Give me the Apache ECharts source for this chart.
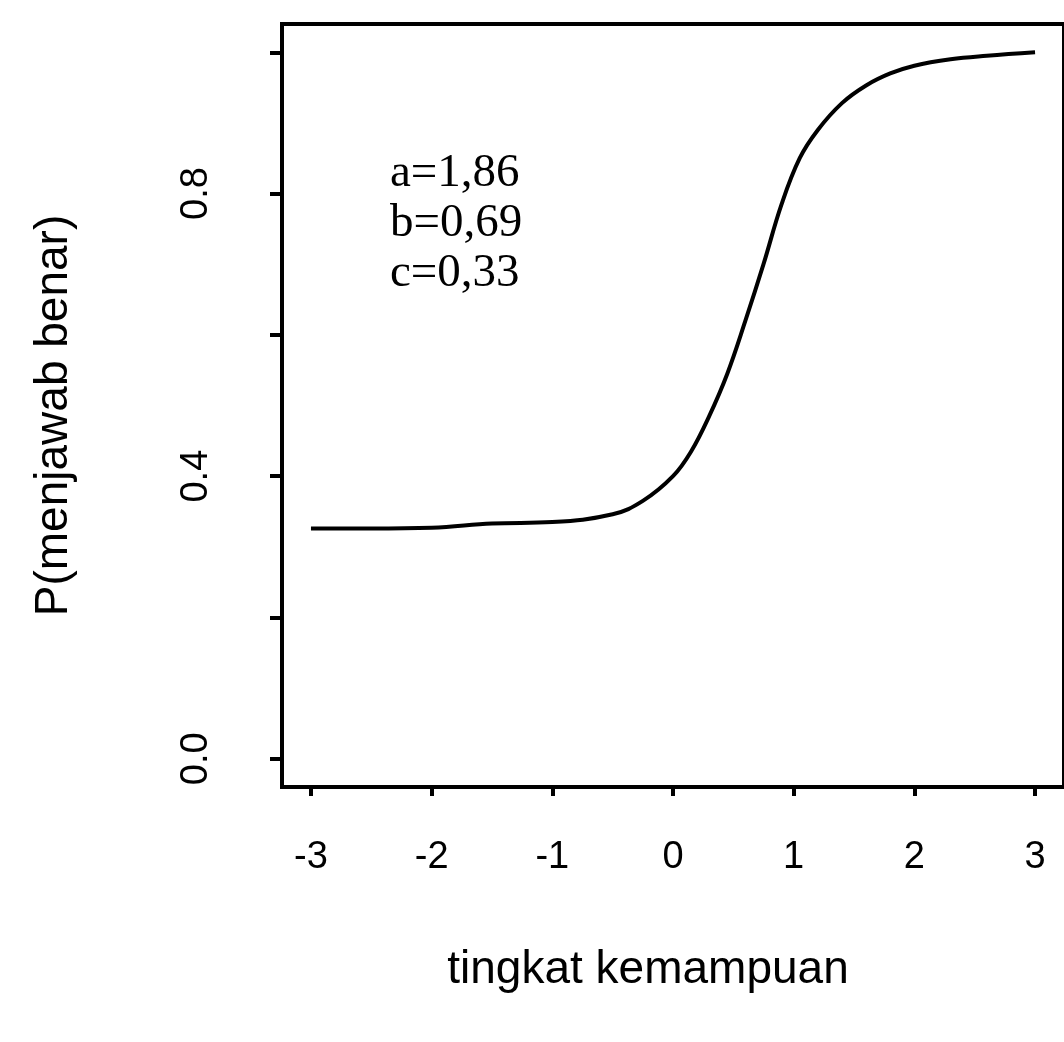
<!DOCTYPE html>
<html>
<head>
<meta charset="utf-8">
<script src="https://cdn.jsdelivr.net/npm/echarts@6/dist/echarts.min.js"></script>
<style>html,body{margin:0;padding:0;background:#fff;}#c{width:1064px;height:1042px;}</style>
</head>
<body>
<div id="c"></div>
<script>
// ability levels (theta) and probability of answering correctly
const theta = [-3, -2.5, -2, -1.5, -1, -0.5, -0.25, 0, 0.15, 0.3, 0.45, 0.6, 0.75, 0.9, 1.05, 1.2, 1.4, 1.6, 1.8, 2.0, 2.3, 2.6, 3.0];
const prob  = [0.326, 0.326, 0.327, 0.333, 0.335, 0.346, 0.365, 0.400, 0.435, 0.485, 0.545, 0.62, 0.70, 0.785, 0.85, 0.89, 0.928, 0.953, 0.970, 0.981, 0.99, 0.995, 1.0];
const xTicks = [-3, -2, -1, 0, 1, 2, 3];
const yTicks = [0, 0.2, 0.4, 0.6, 0.8, 1.0];
const yLabels = [0, 0.4, 0.8];
const params = ['a=1,86', 'b=0,69', 'c=0,33'];
const xTitle = 'tingkat kemampuan';
const yTitle = 'P(menjawab benar)';

const chart = echarts.init(document.getElementById('c'), null, {renderer: 'canvas'});
const sans = 'Liberation Sans';
chart.setOption({
  animation: false,
  backgroundColor: '#fff',
  grid: {left: 282, top: 24, width: 800, height: 763, show: true, borderColor: '#000', borderWidth: 4, backgroundColor: 'transparent'},
  title: {
    text: params.join('\n'),
    left: 385, top: 144,
    textStyle: {fontFamily: 'Liberation Serif', fontSize: 47, fontWeight: 'normal', color: '#000', lineHeight: 50}
  },
  xAxis: {
    type: 'value', min: -3.24, max: 3.24,
    axisLine: {show: true, onZero: false, lineStyle: {color: '#000', width: 4}},
    axisTick: {show: true, length: 9, lineStyle: {color: '#000', width: 4}, customValues: xTicks},
    axisLabel: {customValues: xTicks, margin: 52, fontFamily: sans, fontSize: 38, color: '#000', formatter: v => String(v)},
    splitLine: {show: false},
    name: xTitle, nameLocation: 'middle', nameGap: 160,
    nameTextStyle: {fontFamily: sans, fontSize: 46, color: '#000', padding: [0, 50, 0, 0]}
  },
  yAxis: {
    type: 'value', min: -0.04, max: 1.04,
    axisLine: {show: true, onZero: false, lineStyle: {color: '#000', width: 4}},
    axisTick: {show: true, length: 12, lineStyle: {color: '#000', width: 4}, customValues: yTicks},
    axisLabel: {customValues: yLabels, rotate: 90, margin: 66, fontFamily: sans, fontSize: 38, color: '#000', formatter: v => v.toFixed(1)},
    splitLine: {show: false},
    name: yTitle, nameLocation: 'middle', nameGap: 205, nameRotate: 90,
    nameTextStyle: {fontFamily: sans, fontSize: 46, color: '#000', padding: [0, 20, 0, 0]}
  },
  series: [{
    type: 'line',
    data: theta.map((t, i) => [t, prob[i]]),
    smooth: 0.4,
    showSymbol: false,
    lineStyle: {color: '#000', width: 4}
  }]
});
</script>
</body>
</html>
